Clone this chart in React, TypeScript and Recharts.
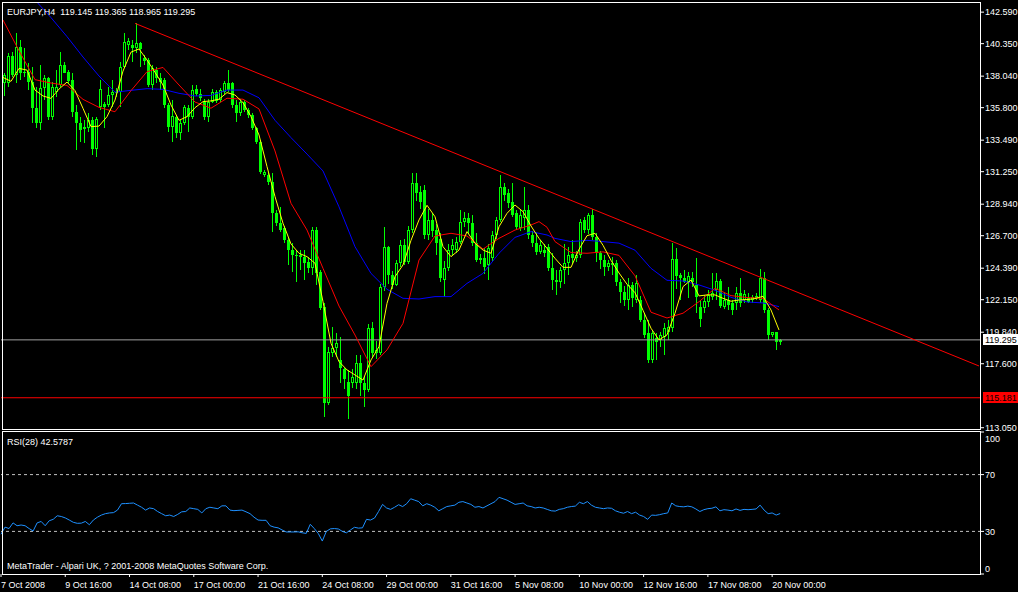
import { ComposedChart, Bar, Line, XAxis, YAxis, ReferenceLine } from "recharts";

const FONT = '"Liberation Sans", Arial, sans-serif';
const LIME = "#00ff00";
const TOTAL = 245; // 195 H4 bars + empty space on the right (chart shift)

// [open, high, low, close] per 4h bar, 7 Oct 2008 00:00 .. 20 Nov 2008 08:00
const ohlc: [number, number, number, number][] = [
  [137.53, 138.24, 136.63, 138.12], [137.53, 139.66, 137.29, 139.47], [139.47, 139.78, 138.0, 138.12], [138.12, 141.08, 137.53, 140.13],
  [140.13, 140.61, 137.76, 138.24], [138.24, 140.02, 138.0, 138.36], [138.36, 138.95, 137.05, 137.65], [137.65, 138.71, 134.68, 135.75],
  [135.75, 137.29, 134.33, 134.68], [134.68, 138.83, 134.21, 137.17], [137.17, 138.12, 136.34, 137.88], [137.88, 138.0, 134.92, 135.16],
  [135.16, 137.65, 134.92, 137.29], [136.93, 138.48, 136.58, 137.29], [137.41, 139.78, 137.29, 138.83], [138.83, 139.07, 138.24, 138.29],
  [138.36, 138.48, 137.53, 137.72], [137.76, 138.24, 135.16, 135.51], [135.51, 135.99, 132.79, 134.68], [134.68, 135.16, 133.38, 134.21],
  [134.4, 134.92, 133.26, 134.26], [134.33, 135.4, 134.09, 134.92], [134.92, 135.16, 132.43, 132.83], [132.83, 135.16, 132.27, 134.97],
  [135.87, 137.76, 135.63, 137.12], [136.06, 136.22, 134.33, 135.87], [135.99, 137.29, 135.87, 136.7], [136.7, 137.76, 135.87, 136.93],
  [136.93, 137.17, 136.58, 136.82], [136.93, 139.07, 135.87, 138.71], [138.71, 141.08, 138.59, 140.49], [140.25, 140.73, 139.9, 140.56],
  [140.25, 140.61, 139.07, 140.02], [140.02, 141.79, 139.66, 140.42], [140.42, 140.49, 138.71, 139.95], [139.3, 139.54, 138.83, 139.14],
  [139.19, 139.3, 137.29, 137.41], [137.41, 138.83, 137.05, 138.59], [138.48, 138.71, 137.53, 137.88], [137.88, 138.24, 137.05, 137.65],
  [137.76, 137.88, 135.75, 135.99], [135.99, 136.11, 134.09, 134.45], [134.45, 136.34, 133.38, 135.23], [135.16, 135.28, 133.62, 133.97],
  [134.02, 134.92, 133.5, 134.68], [134.68, 135.99, 134.56, 135.82], [135.75, 135.99, 134.09, 135.11], [135.11, 137.41, 135.0, 137.06],
  [137.11, 137.41, 136.6, 136.77], [136.77, 137.1, 136.3, 136.47], [136.23, 136.4, 134.9, 135.16], [135.16, 136.4, 134.81, 136.23],
  [136.23, 137.1, 136.1, 136.94], [136.94, 137.06, 136.1, 136.3], [136.35, 137.2, 136.2, 137.06], [136.94, 137.7, 136.8, 137.58],
  [137.58, 138.48, 136.9, 137.06], [137.53, 137.6, 135.8, 135.99], [135.99, 136.35, 134.81, 135.4], [135.4, 136.4, 135.2, 136.23],
  [136.23, 136.35, 135.5, 135.64], [135.64, 135.8, 135.1, 135.28], [135.28, 135.4, 134.2, 134.33], [134.33, 134.4, 133.2, 133.39],
  [133.39, 133.5, 131.1, 131.25], [131.02, 131.4, 130.9, 131.25], [131.02, 131.14, 130.3, 130.54], [130.54, 131.14, 126.99, 128.29],
  [128.29, 128.5, 127.4, 127.58], [127.58, 128.77, 126.99, 127.11], [127.23, 127.4, 126.2, 126.4], [126.4, 126.52, 124.62, 125.69],
  [125.69, 126.16, 124.15, 125.33], [125.35, 125.69, 123.44, 125.33], [125.33, 125.69, 124.27, 125.21], [125.21, 125.69, 123.56, 124.74],
  [124.86, 125.2, 124.03, 124.38], [124.4, 127.34, 123.91, 127.11], [127.11, 127.34, 123.2, 124.03], [124.15, 124.27, 121.42, 121.54],
  [121.66, 121.9, 113.84, 114.79], [114.79, 118.82, 114.67, 118.46], [118.34, 120.24, 118.11, 118.7], [118.7, 119.77, 118.11, 119.05],
  [117.87, 119.53, 116.21, 117.3], [117.2, 117.3, 115.8, 116.5], [116.33, 117.15, 113.65, 115.31], [116.21, 117.2, 115.9, 116.68],
  [116.21, 118.2, 115.8, 117.63], [117.63, 118.2, 115.3, 116.21], [116.21, 116.7, 114.5, 115.73], [115.73, 120.4, 115.6, 120.12],
  [120.12, 120.6, 118.1, 118.34], [118.34, 119.2, 117.9, 118.58], [118.34, 123.3, 118.2, 123.08], [123.08, 127.34, 122.8, 125.92],
  [125.92, 126.0, 123.3, 123.91], [123.91, 124.2, 122.9, 123.2], [123.2, 125.0, 123.1, 124.74], [124.74, 126.4, 124.5, 126.04],
  [126.04, 126.5, 124.6, 124.85], [124.85, 127.4, 124.7, 127.1], [127.1, 131.13, 126.9, 130.42], [130.42, 131.13, 129.2, 129.71],
  [129.83, 130.2, 128.6, 129.1], [129.95, 130.3, 126.5, 126.75], [126.75, 128.6, 126.4, 127.82], [127.82, 128.3, 126.6, 127.0],
  [127.1, 127.5, 125.3, 126.16], [126.5, 126.9, 123.4, 123.67], [123.55, 124.9, 122.37, 124.38], [124.38, 126.1, 124.2, 125.68],
  [125.68, 126.5, 125.3, 126.04], [125.68, 126.6, 125.5, 126.28], [126.28, 128.5, 126.1, 127.7], [127.7, 128.4, 127.3, 127.93],
  [127.93, 128.3, 126.8, 127.6], [127.6, 128.2, 126.0, 126.16], [126.16, 126.9, 124.8, 124.97], [124.97, 125.4, 124.7, 125.09],
  [125.09, 125.8, 124.0, 124.5], [124.62, 126.1, 123.55, 125.8], [125.09, 127.0, 124.9, 126.75], [126.75, 128.0, 126.5, 127.82],
  [127.82, 131.0, 127.7, 130.18], [130.18, 130.42, 129.2, 129.59], [129.71, 130.0, 128.7, 129.0], [129.12, 130.42, 128.0, 128.17],
  [128.29, 128.5, 127.1, 127.34], [127.22, 128.5, 127.0, 128.17], [127.93, 130.19, 127.1, 128.53], [128.53, 128.9, 126.5, 126.75],
  [126.75, 127.0, 125.9, 126.16], [126.16, 126.9, 125.3, 125.56], [125.56, 126.4, 125.4, 126.04], [125.68, 126.1, 125.2, 125.45],
  [125.92, 126.1, 124.2, 124.38], [124.38, 125.45, 122.84, 123.55], [123.55, 124.26, 122.49, 123.43], [123.43, 124.5, 123.0, 124.26],
  [124.26, 126.1, 123.3, 124.74], [124.74, 125.92, 123.9, 125.33], [125.4, 126.4, 124.7, 125.1], [125.1, 125.6, 124.8, 125.33],
  [125.33, 127.9, 125.1, 127.7], [127.82, 128.0, 126.9, 127.1], [127.1, 128.3, 126.8, 128.17], [128.17, 128.6, 126.4, 126.63],
  [126.63, 126.9, 124.8, 125.45], [125.45, 125.6, 124.3, 124.97], [124.97, 125.3, 123.8, 124.5], [124.5, 125.0, 124.2, 124.74],
  [124.74, 125.2, 123.9, 124.62], [124.74, 125.0, 123.1, 123.44], [123.44, 123.6, 121.9, 122.73], [122.73, 123.1, 121.7, 122.13],
  [122.13, 123.7, 121.4, 123.2], [123.2, 123.4, 121.6, 122.3], [122.13, 123.91, 121.9, 123.32], [122.13, 122.4, 120.59, 120.71],
  [120.71, 121.2, 119.4, 119.65], [119.76, 120.71, 117.63, 117.87], [117.87, 120.0, 117.63, 119.76], [119.41, 119.76, 117.87, 119.17],
  [119.29, 119.88, 118.82, 119.65], [119.53, 120.47, 118.24, 120.12], [119.88, 120.71, 119.29, 120.24], [120.12, 126.16, 119.88, 125.02],
  [125.02, 125.8, 122.9, 123.84], [123.91, 124.03, 122.13, 123.67], [123.72, 124.27, 123.32, 123.44], [123.44, 124.14, 122.25, 123.84],
  [123.72, 124.14, 123.08, 123.44], [123.2, 125.1, 121.2, 122.37], [121.66, 122.13, 120.24, 120.76], [121.54, 122.49, 121.2, 122.06],
  [122.01, 122.84, 121.66, 122.49], [122.37, 124.03, 122.13, 122.61], [122.84, 124.03, 122.13, 123.48], [123.48, 123.6, 121.54, 121.71],
  [121.66, 122.6, 121.5, 122.13], [122.13, 123.08, 121.42, 121.78], [121.9, 122.13, 121.07, 121.42], [121.9, 123.08, 121.42, 122.61],
  [122.61, 123.67, 121.66, 121.9], [122.13, 122.84, 121.9, 122.54], [122.25, 122.61, 121.9, 122.01], [122.13, 122.49, 121.9, 122.37],
  [122.25, 122.61, 122.13, 122.42], [122.13, 124.3, 121.9, 123.72], [123.72, 124.14, 121.19, 121.42], [121.42, 121.54, 119.29, 119.65],
  [119.65, 119.88, 119.53, 119.84], [119.84, 119.88, 118.58, 119.17], [119.145, 119.365, 118.965, 119.295],
];

// moving averages: [bar, price]
const yellowMa: [number, number][] = [
  [0, 137.95], [2, 137.67], [4, 138.59], [6, 138.47], [8, 137.05], [10, 136.63], [12, 136.46], [14, 137.12], [16, 137.62], [18, 137.01],
  [20, 135.75], [22, 134.45], [24, 134.49], [26, 135.16], [28, 136.34], [30, 138.4], [32, 139.75], [34, 139.97], [36, 139.19], [38, 138.31],
  [40, 137.41], [42, 135.99], [44, 134.9], [46, 135.16], [48, 135.8], [50, 136.23], [52, 136.28], [54, 136.4], [56, 136.87], [58, 136.7],
  [60, 136.16], [62, 135.16], [64, 133.86], [66, 131.61], [68, 129.48], [70, 127.58], [72, 126.11], [74, 125.45], [76, 125.21], [78, 124.74],
  [80, 122.01], [82, 119.05], [84, 117.75], [86, 117.16], [88, 116.8], [90, 116.44], [92, 117.87], [94, 118.81], [96, 121.89], [98, 123.79],
  [100, 124.62], [102, 126.37], [104, 127.82], [106, 128.86], [108, 128.05], [110, 125.92], [112, 125.21], [114, 125.68], [116, 126.99], [118, 126.16],
  [120, 125.68], [122, 125.45], [124, 127.34], [126, 128.29], [128, 128.88], [130, 128.41], [132, 127.39], [134, 126.51], [136, 125.8], [138, 125.09],
  [140, 124.45], [142, 124.45], [144, 125.73], [146, 126.7], [148, 126.87], [150, 126.02], [152, 124.95], [154, 124.05], [156, 123.25], [158, 122.65],
  [160, 121.4], [162, 120.12], [164, 119.29], [166, 119.65], [168, 121.19], [170, 123.08], [172, 123.55], [174, 122.42], [176, 122.49], [178, 122.49],
  [180, 122.25], [182, 122.04], [184, 122.13], [186, 122.16], [188, 122.23], [190, 122.39], [192, 121.42], [193, 120.71], [194, 120.0],
];

const redMa: [number, number][] = [
  [0, 142.03], [4, 139.85], [8, 137.79], [12, 137.55], [16, 137.38], [20, 136.39], [24, 135.82], [28, 135.51], [32, 137.01], [36, 138.36],
  [40, 138.66], [44, 137.41], [48, 136.2], [52, 135.76], [56, 136.47], [60, 136.4], [64, 135.71], [68, 132.72], [72, 129.0], [76, 127.1],
  [80, 124.38], [84, 121.7], [88, 119.64], [92, 117.39], [96, 118.58], [100, 120.47], [104, 124.97], [108, 126.68], [112, 126.87], [116, 126.68],
  [120, 125.75], [124, 126.51], [128, 127.1], [132, 127.46], [134, 127.7], [136, 127.3], [138, 126.28], [142, 125.5], [146, 125.45], [150, 125.55],
  [154, 125.3], [158, 123.85], [162, 121.26], [166, 120.85], [170, 121.19], [174, 122.01], [178, 122.96], [182, 122.44], [186, 122.3], [190, 122.25],
  [194, 121.42],
];

const blueMa: [number, number][] = [
  [0, 145.6], [4, 144.5], [8, 143.45], [12, 142.2], [16, 140.85], [20, 139.4], [24, 138.05], [28, 136.9], [32, 137.03], [36, 137.15],
  [40, 137.1], [44, 136.82], [48, 136.63], [52, 136.67], [56, 137.05], [60, 137.05], [64, 136.5], [68, 134.9], [72, 133.67], [76, 132.5],
  [80, 131.3], [84, 128.75], [88, 125.92], [92, 124.02], [96, 122.89], [100, 122.25], [104, 122.2], [108, 122.37], [112, 122.37], [116, 123.31],
  [120, 124.02], [124, 125.45], [128, 126.58], [132, 126.99], [136, 126.75], [138, 126.51], [142, 126.28], [146, 126.37], [150, 126.28], [154, 126.17],
  [158, 125.67], [162, 124.38], [166, 123.53], [170, 123.48], [174, 123.2], [178, 122.82], [182, 122.32], [186, 121.99], [190, 121.92], [194, 121.66],
];

// hand-drawn resistance line
const trendLine: [number, number][] = [[33, 141.79], [244, 117.44]];

const rsi = [
  28, 33, 32, 36, 34, 34.5, 34, 32, 30.3, 36, 37, 34, 37.5, 38.5, 41, 40.5, 39.5, 38, 36.4, 35.7,
  35.8, 37, 34.7, 38, 40, 41.5, 42.5, 43, 43.2, 45, 49.5, 49.6, 49.8, 50, 48.5, 47, 45, 46.5, 46, 44,
  42.5, 41, 41.5, 40.5, 42, 43.8, 44, 46.5, 46, 45.5, 43, 46, 47, 46.5, 46, 48, 48, 45, 44.6, 44.8,
  45, 43.8, 42.5, 40, 38, 37.8, 37.8, 34, 33, 32.5, 31, 29.6, 29.6, 29.6, 29.7, 29, 28.6, 35, 32, 28.5,
  23.2, 30, 31.8, 32, 31.7, 30, 29, 31, 32.9, 32.3, 32.5, 38.5, 38, 39.4, 44, 49, 46.5, 45.5, 47, 48.8,
  47.5, 49.5, 53, 52, 51, 48, 49.5, 48.5, 47, 44.5, 46, 47.5, 48, 48.5, 50.5, 51, 50, 49, 47, 47.5,
  46.5, 48, 49.5, 51, 54, 53, 52, 50.5, 49, 49.5, 50, 48, 47.5, 46.5, 47, 46.5, 45.5, 44.5, 44.3, 45.5,
  46, 47, 47.5, 47.8, 50.5, 49.5, 51, 48.5, 47, 46.5, 46, 46.5, 46.3, 44.5, 43.5, 42.8, 44, 42.5, 43.5, 41.5,
  40.5, 38.5, 41.5, 41.3, 41.8, 42.5, 43, 50, 48, 47.5, 47.3, 47.8, 47.3, 45.8, 44, 45.3, 46, 46.3, 47.3, 44.5,
  45.3, 45, 44.5, 45.8, 44.8, 45.5, 45.3, 45.5, 45.8, 48.5, 45, 42.5, 43, 41.5, 42.58,
];

const dateTicks = [0, 16, 32, 48, 64, 80, 96, 112, 128, 144, 160, 176, 192];
const dateLabels = [
  "7 Oct 2008", "9 Oct 16:00", "14 Oct 08:00", "17 Oct 00:00", "21 Oct 16:00", "24 Oct 08:00", "29 Oct 00:00",
  "31 Oct 16:00", "5 Nov 08:00", "10 Nov 00:00", "12 Nov 16:00", "17 Nov 08:00", "20 Nov 00:00",
];
const priceTicks = [142.59, 140.35, 138.04, 135.8, 133.49, 131.25, 128.94, 126.7, 124.39, 122.15, 119.84, 117.6, 113.05];
const rsiTicks = [0, 30, 70, 100];
const bidPrice = 119.295;
const levelPrice = 115.181;

const yellowMap = new Map(yellowMa);
const redMap = new Map(redMa);
const blueMap = new Map(blueMa);
const trendMap = new Map(trendLine);

const rows = Array.from({ length: TOTAL }, (_, i) => {
  const c = ohlc[i];
  return {
    idx: i,
    range: c ? [c[2], c[1]] : null,
    open: c ? c[0] : null,
    high: c ? c[1] : null,
    low: c ? c[2] : null,
    close: c ? c[3] : null,
    yellow: yellowMap.get(i) ?? null,
    red: redMap.get(i) ?? null,
    blue: blueMap.get(i) ?? null,
    trend: trendMap.get(i) ?? null,
    rsi: rsi[i] ?? null,
  };
});

function Candle(props: any) {
  const { x, y, width, height, payload } = props;
  if (!payload || payload.open == null || y == null) return null;
  const top = Math.min(y, y + height);
  const bottom = Math.max(y, y + height);
  const span = payload.high - payload.low;
  const py = (v: number) => (span > 0 ? top + ((payload.high - v) / span) * (bottom - top) : top);
  const cx = Math.round(x + width / 2);
  const bTop = Math.round(Math.min(py(payload.open), py(payload.close)));
  const bBot = Math.round(Math.max(py(payload.open), py(payload.close)));
  const h = Math.max(1, bBot - bTop);
  const bull = payload.close >= payload.open;
  return (
    <g shapeRendering="crispEdges">
      <rect x={cx} y={Math.round(top)} width={1} height={Math.max(1, Math.round(bottom) - Math.round(top))} fill={LIME} />
      <rect x={cx - 1} y={bTop} width={3} height={h} fill={LIME} />
      {bull && h > 2 && <rect x={cx} y={bTop + 1} width={1} height={h - 2} fill="#000" />}
    </g>
  );
}

// price box on the right axis for a horizontal line
function priceTag(text: string, bg: string) {
  return (p: any) => {
    const vb = p.viewBox;
    if (!vb) return null;
    const right = vb.x + vb.width;
    return (
      <g shapeRendering="crispEdges">
        <rect x={right + 2} y={vb.y - 6} width={36} height={11} fill={bg} />
        <text x={right + 4} y={vb.y + 3.5} fill="#000" fontSize={9} fontFamily={FONT}>
          {text}
        </text>
      </g>
    );
  };
}

function DateTick(props: any) {
  const { x, y, payload } = props;
  const k = dateTicks.indexOf(payload.value);
  return (
    <text x={x} y={y + 9} fill="#fff" fontSize={9} fontFamily={FONT} textAnchor="start">
      {k >= 0 ? dateLabels[k] : ""}
    </text>
  );
}

function RsiTick(props: any) {
  const { x, y, payload } = props;
  const v = payload.value;
  const dy = v === 100 ? 10 : v === 0 ? -2.5 : 3.3;
  return (
    <text x={x} y={y + dy} fill="#fff" fontSize={9} fontFamily={FONT} textAnchor="start">
      {v}
    </text>
  );
}

export default function App() {
  return (
    <div style={{ position: "fixed", left: 0, top: 0, width: 1018, height: 592, background: "#000", overflow: "hidden" }}>
      {/* RSI panel */}
      <div style={{ position: "absolute", left: 0, top: 431 }}>
        <ComposedChart width={1018} height={161} data={rows} margin={{ top: 1, right: 0, left: 1, bottom: 0 }}>
          <XAxis
            dataKey="idx"
            height={18}
            ticks={dateTicks}
            interval={0}
            tick={<DateTick />}
            tickLine={{ stroke: "#fff" }}
            axisLine={false}
            tickSize={3}
          />
          <YAxis
            orientation="right"
            width={37}
            domain={[0, 100]}
            ticks={rsiTicks}
            interval={0}
            tick={<RsiTick />}
            tickLine={{ stroke: "#fff" }}
            axisLine={false}
            tickSize={3}
            tickMargin={1}
          />
          <ReferenceLine y={70} stroke="#c0c0c0" strokeDasharray="3 3" />
          <ReferenceLine y={30} stroke="#c0c0c0" strokeDasharray="3 3" />
          <Line dataKey="rsi" stroke="#1e90ff" strokeWidth={1} dot={false} isAnimationActive={false} />
        </ComposedChart>
      </div>

      {/* price panel (svg a bit taller so the lowest price label is not cut) */}
      <div style={{ position: "absolute", left: 0, top: 0 }}>
        <ComposedChart width={1018} height={434} data={rows} margin={{ top: 2, right: 0, left: 1, bottom: 5 }}>
          <XAxis dataKey="idx" hide />
          <YAxis
            orientation="right"
            width={37}
            domain={[112.96, 143.31]}
            allowDataOverflow
            ticks={priceTicks}
            interval={0}
            tickFormatter={(v: number) => v.toFixed(3)}
            tick={{ fill: "#fff", fontSize: 9, fontFamily: FONT }}
            tickLine={{ stroke: "#fff" }}
            axisLine={false}
            tickSize={3}
            tickMargin={1}
          />
          <ReferenceLine y={levelPrice} stroke="#ff0000" label={priceTag(levelPrice.toFixed(3), "#ff0000")} />
          <ReferenceLine y={bidPrice} stroke="#a0a0a0" label={priceTag(bidPrice.toFixed(3), "#ffffff")} />
          <Bar dataKey="range" barSize={3} shape={(p: any) => <Candle {...p} />} isAnimationActive={false} />
          <Line dataKey="blue" stroke="#0000ff" strokeWidth={1} dot={false} connectNulls isAnimationActive={false} />
          <Line dataKey="red" stroke="#ff0000" strokeWidth={1} dot={false} connectNulls isAnimationActive={false} />
          <Line dataKey="yellow" stroke="#ffff00" strokeWidth={1} dot={false} connectNulls isAnimationActive={false} />
          <Line dataKey="trend" stroke="#ff0000" strokeWidth={1} dot={false} connectNulls isAnimationActive={false} />
        </ComposedChart>
      </div>

      {/* panel frames and captions */}
      <svg width={1018} height={592} style={{ position: "absolute", left: 0, top: 0, pointerEvents: "none" }}>
        <rect x={2.5} y={2.5} width={978} height={427} fill="none" stroke="#fff" />
        <rect x={2.5} y={431.5} width={978} height={143} fill="none" stroke="#fff" />
        <text x={7} y={15} fill="#fff" fontSize={9} fontFamily={FONT} xmlSpace="preserve">
          EURJPY,H4  119.145 119.365 118.965 119.295
        </text>
        <text x={7} y={445} fill="#fff" fontSize={9} fontFamily={FONT}>
          RSI(28) 42.5787
        </text>
        <text x={7} y={569} fill="#fff" fontSize={9} fontFamily={FONT}>
          MetaTrader - Alpari UK, ? 2001-2008 MetaQuotes Software Corp.
        </text>
      </svg>
    </div>
  );
}
